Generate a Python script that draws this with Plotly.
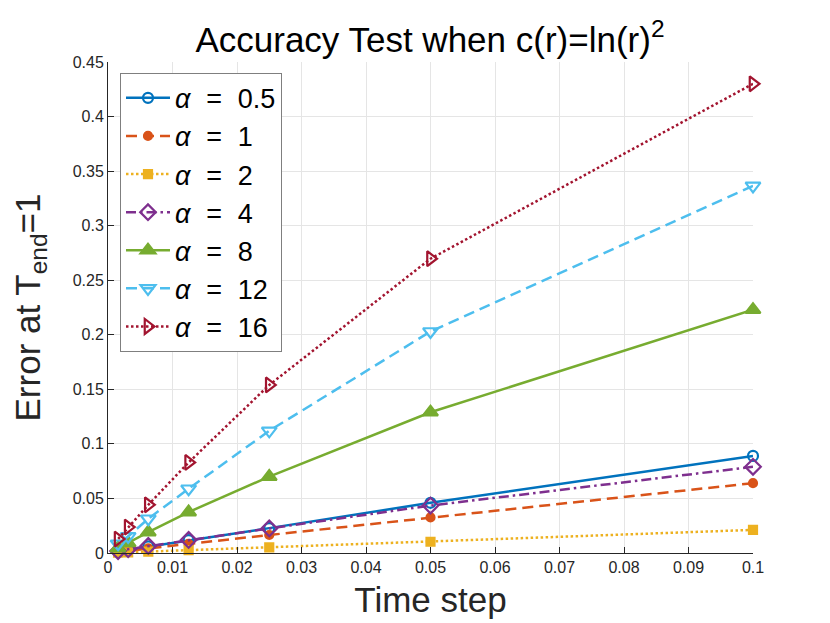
import plotly.graph_objects as go

# time steps and errors
dt = [0.1, 0.05, 0.025, 0.0125, 0.00625, 0.003125, 0.0015625]

err_05 = [0.089, 0.046, 0.0228, 0.0118, 0.006, 0.003, 0.0015]
err_1 = [0.064, 0.0326, 0.0165, 0.0083, 0.0042, 0.0021, 0.001]
err_2 = [0.0212, 0.0103, 0.0052, 0.0026, 0.0013, 0.00065, 0.0003]
err_4 = [0.079, 0.0435, 0.0225, 0.012, 0.0065, 0.0035, 0.0018]
err_8 = [0.223, 0.129, 0.070, 0.0375, 0.0192, 0.0092, 0.0045]
err_12 = [0.3365, 0.203, 0.112, 0.0589, 0.0314, 0.0152, 0.0085]
err_16 = [0.43, 0.2697, 0.154, 0.083, 0.0442, 0.0238, 0.0128]

alphas = ['0.5', '1', '2', '4', '8', '12', '16']
errors = [err_05, err_1, err_2, err_4, err_8, err_12, err_16]

# matlab default colour order
colors = ['#0072BD', '#D95319', '#EDB120', '#7E2F8E', '#77AC30', '#4DBEEE', '#A2142F']
dashes = ['solid', '11px,6px', '2.5px,2.5px', '10px,4px,2.5px,4px', 'solid', '11px,6px', '2.5px,2.5px']
symbols = ['circle-open', 'circle', 'square', 'diamond-open', 'triangle-up',
           'triangle-down-open', 'triangle-right-open']
sizes = [10, 8, 8, 12, 13, 13, 13]

sp = '\u2002\u200a'  # wide gap like matlab's tex legend

fig = go.Figure()
for i in range(len(alphas)):
    fig.add_trace(go.Scatter(
        x=dt, y=errors[i], mode='lines+markers',
        name='<i>α</i>' + sp + '=' + sp + alphas[i],
        legendgroup=alphas[i], cliponaxis=False,
        line=dict(color=colors[i], width=2.5, dash=dashes[i]),
        marker=dict(symbol=symbols[i], size=sizes[i], color=colors[i],
                    line=dict(color=colors[i], width=2.2)),
    ))

fnt = 'Liberation Sans, Arial'
axis_font = dict(family=fnt, size=16, color='#262626')
fig.update_layout(
    width=830, height=623,
    margin=dict(l=100, r=85, t=54, b=78),
    plot_bgcolor='white', paper_bgcolor='white',
    title=dict(text='Accuracy Test when c(r)=ln(r)<sup>2</sup>',
               xref='container', x=0.5084, xanchor='center',
               yref='container', y=0.93, yanchor='bottom',
               font=dict(family=fnt, size=35, color='black')),
    legend=dict(x=0.0186, y=0.978, xanchor='left', yanchor='top',
                bgcolor='white', bordercolor='#7f7f7f', borderwidth=1,
                tracegroupgap=0, itemwidth=44,
                font=dict(family=fnt, size=27, color='black')),
    xaxis=dict(range=[0, 0.1], dtick=0.01, tickformat='~g',
               showgrid=True, gridcolor='#e5e5e5', zeroline=False,
               showline=True, linecolor='#262626', linewidth=1,
               ticks='inside', ticklen=6, tickcolor='#262626',
               tickfont=axis_font,
               title=dict(text='Time step', standoff=12,
                          font=dict(family=fnt, size=35, color='#262626'))),
    yaxis=dict(range=[0, 0.45], dtick=0.05, tickformat='~g',
               showgrid=True, gridcolor='#e5e5e5', zeroline=False,
               showline=True, linecolor='#262626', linewidth=1,
               ticks='inside', ticklen=6, tickcolor='#262626',
               tickfont=axis_font,
               title=dict(text='Error at T<sub>end</sub>=1', standoff=28,
                          font=dict(family=fnt, size=35, color='#262626'))),
)

fig.write_html("out.html")
